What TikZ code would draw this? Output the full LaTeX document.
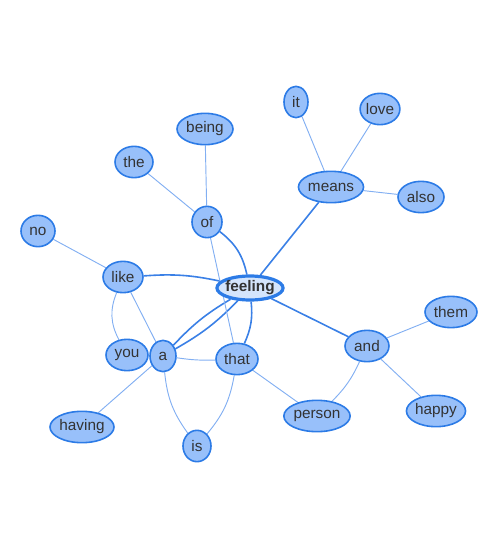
\documentclass[tikz,border=0pt]{standalone}
\usepackage{fontspec}
\setmainfont{Liberation Sans}
\usetikzlibrary{shapes.geometric,backgrounds}
\definecolor{wordfill}{HTML}{98C0FA}
\definecolor{wordline}{HTML}{2C7BE6}
\definecolor{hubfill}{HTML}{D4E5FC}
\definecolor{linkblue}{HTML}{3A80E6}
\definecolor{linklight}{HTML}{82AFF2}

\begin{document}
\begin{tikzpicture}[x=0.75pt, y=-0.75pt,
    word/.style={draw=wordline, fill=wordfill, ellipse, line width=1.2pt,
      inner sep=0pt, minimum height=23.5pt, minimum width=18pt,
      text=black!80, font=\fontsize{11.5}{13}\selectfont},
    hub/.style={word, fill=hubfill, line width=2.4pt, inner xsep=-1pt,
      minimum height=18pt, font=\fontsize{11.5}{13}\selectfont\bfseries},
    strong/.style={draw=linkblue, line width=1.2pt},
    weak/.style={draw=linklight, line width=0.7pt}]

  \useasboundingbox (0,0) rectangle (500,550);

  % the hub
  \node[hub] (feeling) at (250,288) {feeling};

  % words next to the hub
  \node[word, minimum width=22.5pt] (of)    at (207,222) {of};
  \node[word, minimum width=30pt]   (like)  at (123,277) {like};
  \node[word, minimum width=19.5pt] (a)     at (163,356) {a};
  \node[word, minimum width=31.5pt] (that)  at (237,359) {that};
  \node[word, minimum width=33pt]   (and)   at (367,346) {and};
  \node[word, minimum width=48pt]   (means) at (331,187) {means};

  % outer words
  \node[word, minimum width=42pt]   (being)  at (205,129) {being};
  \node[word, minimum width=28.5pt] (the)    at (134,162) {the};
  \node[word, minimum width=25.5pt] (no)     at (38,231)  {no};
  \node[word, minimum width=31.5pt] (you)    at (127,355) {you};
  \node[word, minimum width=48pt]   (having) at (82,427)  {having};
  \node[word, minimum width=21pt]   (is)     at (197,446) {is};
  \node[word, minimum width=49.5pt] (person) at (317,416) {person};
  \node[word, minimum width=39pt]   (them)   at (451,312) {them};
  \node[word, minimum width=39pt]   (happy)  at (436,411) {happy};
  \node[word, minimum width=18pt]   (it)     at (296,102) {it};
  \node[word, minimum width=27pt]   (love)   at (380,109) {love};
  \node[word, minimum width=34.5pt] (also)   at (421,197) {also};

  \begin{scope}[on background layer]
    % hub links
    \draw[strong] (feeling) to[bend right=20] (of);
    \draw[strong] (feeling) to[bend right=8] (like);
    \draw[strong] (feeling) to[bend left=8] (a);
    \draw[strong] (feeling) to[bend right=8] (a);
    \draw[strong] (feeling) to[bend left=15] (that);
    \draw[strong] (feeling) -- (means);
    \draw[strong] (feeling) -- (and);

    % outer links
    \draw[weak] (of) -- (being);
    \draw[weak] (of) -- (the);
    \draw[weak] (of) -- (that);
    \draw[weak] (like) -- (no);
    \draw[weak] (like) to[bend right=25] (you);
    \draw[weak] (like) -- (a);
    \draw[weak] (a) -- (having);
    \draw[weak] (a) to[bend right=15] (is);
    \draw[weak] (a) to[bend right=5] (that);
    \draw[weak] (that) to[bend left=15] (is);
    \draw[weak] (that) -- (person);
    \draw[weak] (and) -- (them);
    \draw[weak] (and) -- (happy);
    \draw[weak] (and) to[bend left=10] (person);
    \draw[weak] (means) -- (it);
    \draw[weak] (means) -- (love);
    \draw[weak] (means) -- (also);
  \end{scope}

\end{tikzpicture}
\end{document}
